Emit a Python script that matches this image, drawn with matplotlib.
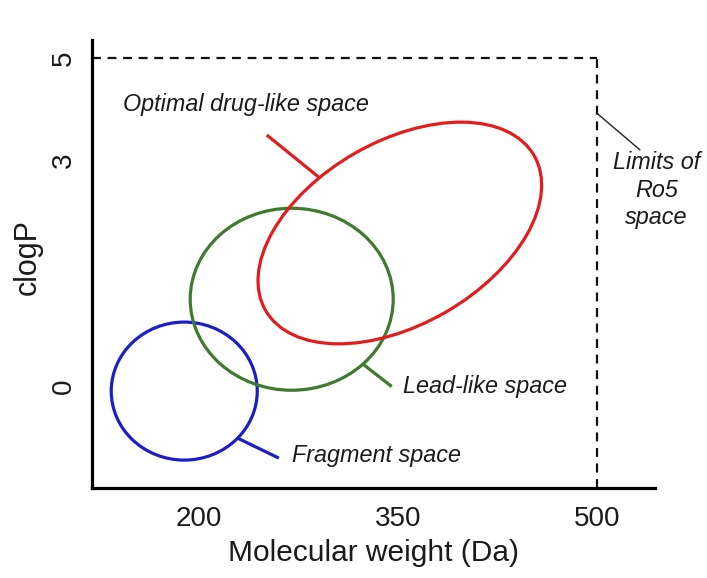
import numpy as np
import matplotlib
matplotlib.use('Agg')
import matplotlib.pyplot as plt
from matplotlib.patches import Ellipse
import matplotlib.transforms as transforms

plt.rcParams['font.family'] = ['Liberation Sans', 'DejaVu Sans']

# chemical space regions: name, colour, centre (MW, clogP), size (inches), angle
regioes = ['Fragment space', 'Lead-like space', 'Optimal drug-like space']
cores = ['#1e1ec8', '#3f7a2e', '#e21d1d']
centro_mw = [189, 270, 351.5]
centro_logp = [-0.07, 1.15, 2.03]
largura_in = [1.46, 2.03, 3.10]
altura_in = [1.38, 1.82, 1.83]
angulo = [0, 0, 30]

# labels: text start and leader line (MW, clogP)
texto_mw = [270, 354, 143]
texto_logp = [-0.92, -0.01, 4.08]
linha_mw = [(228.6, 260.3), (324.3, 345.4), (251.2, 291.2)]
linha_logp = [(-0.69, -0.96), (0.28, -0.01), (3.49, 2.76)]

# Ro5 limits
limite_mw = 500
limite_logp = 5

xticks = [200, 350, 500]
yticks = [0, 3, 5]


def fwd(y):
    y = np.asarray(y, dtype=float)
    return np.where(y <= 3, y, 3 + (y - 3) * 0.677)


def inv(v):
    v = np.asarray(v, dtype=float)
    return np.where(v <= 3, v, 3 + (v - 3) / 0.677)


fig = plt.figure(figsize=(7.07, 5.78), dpi=100)
ax = fig.add_axes([0.130, 0.156, 0.796, 0.775])
ax.set_yscale('function', functions=(fwd, inv))
ax.set_xlim(119.4, 543.6)
ax.set_ylim(-1.355, 5.356)

for n in range(len(regioes)):
    trans = fig.dpi_scale_trans + transforms.ScaledTranslation(
        centro_mw[n], centro_logp[n], ax.transData)
    ax.add_patch(Ellipse((0, 0), largura_in[n], altura_in[n], angle=angulo[n],
                         fill=False, edgecolor=cores[n], lw=2.3, transform=trans))
    ax.plot(linha_mw[n], linha_logp[n], color=cores[n], lw=2.3,
            solid_capstyle='butt')
    ax.text(texto_mw[n], texto_logp[n], regioes[n], fontsize=16.8,
            style='italic', ha='left', va='center', color='#1a1a1a')

# dashed Ro5 box
ax.plot([119.4, limite_mw], [limite_logp, limite_logp], ls=(0, (4, 3)),
        color='#111111', lw=1.6)
ax.plot([limite_mw, limite_mw], [-1.355, limite_logp], ls=(0, (4, 3)),
        color='#111111', lw=1.6)
ax.plot([499.9, 532.4], [3.92, 3.2], color='#222222', lw=1.0)
ax.text(545, 2.6, 'Limits of\nRo5\nspace', fontsize=16.8, style='italic',
        ha='center', va='center', color='#1a1a1a', linespacing=1.25)

ax.spines['top'].set_visible(False)
ax.spines['right'].set_visible(False)
ax.spines['left'].set_linewidth(2.3)
ax.spines['bottom'].set_linewidth(2.3)
ax.spines['left'].set_capstyle('projecting')
ax.spines['bottom'].set_capstyle('projecting')

ax.set_xticks(xticks, [str(t) for t in xticks])
ax.set_yticks(yticks, [str(t) for t in yticks])
ax.minorticks_off()
ax.tick_params(axis='both', length=0, labelsize=20, colors='#1a1a1a')
ax.tick_params(axis='x', pad=13)
ax.tick_params(axis='y', pad=10.5)
for lab in ax.get_yticklabels():
    lab.set_rotation(90)
    lab.set_va('center')

ax.set_xlabel('Molecular weight (Da)', fontsize=21.5, labelpad=5, color='#1a1a1a')
ax.set_ylabel('clogP', fontsize=22, color='#1a1a1a')
ax.yaxis.set_label_coords(-0.087, 0.515)

fig.savefig('out.png', dpi=100, facecolor='white')
